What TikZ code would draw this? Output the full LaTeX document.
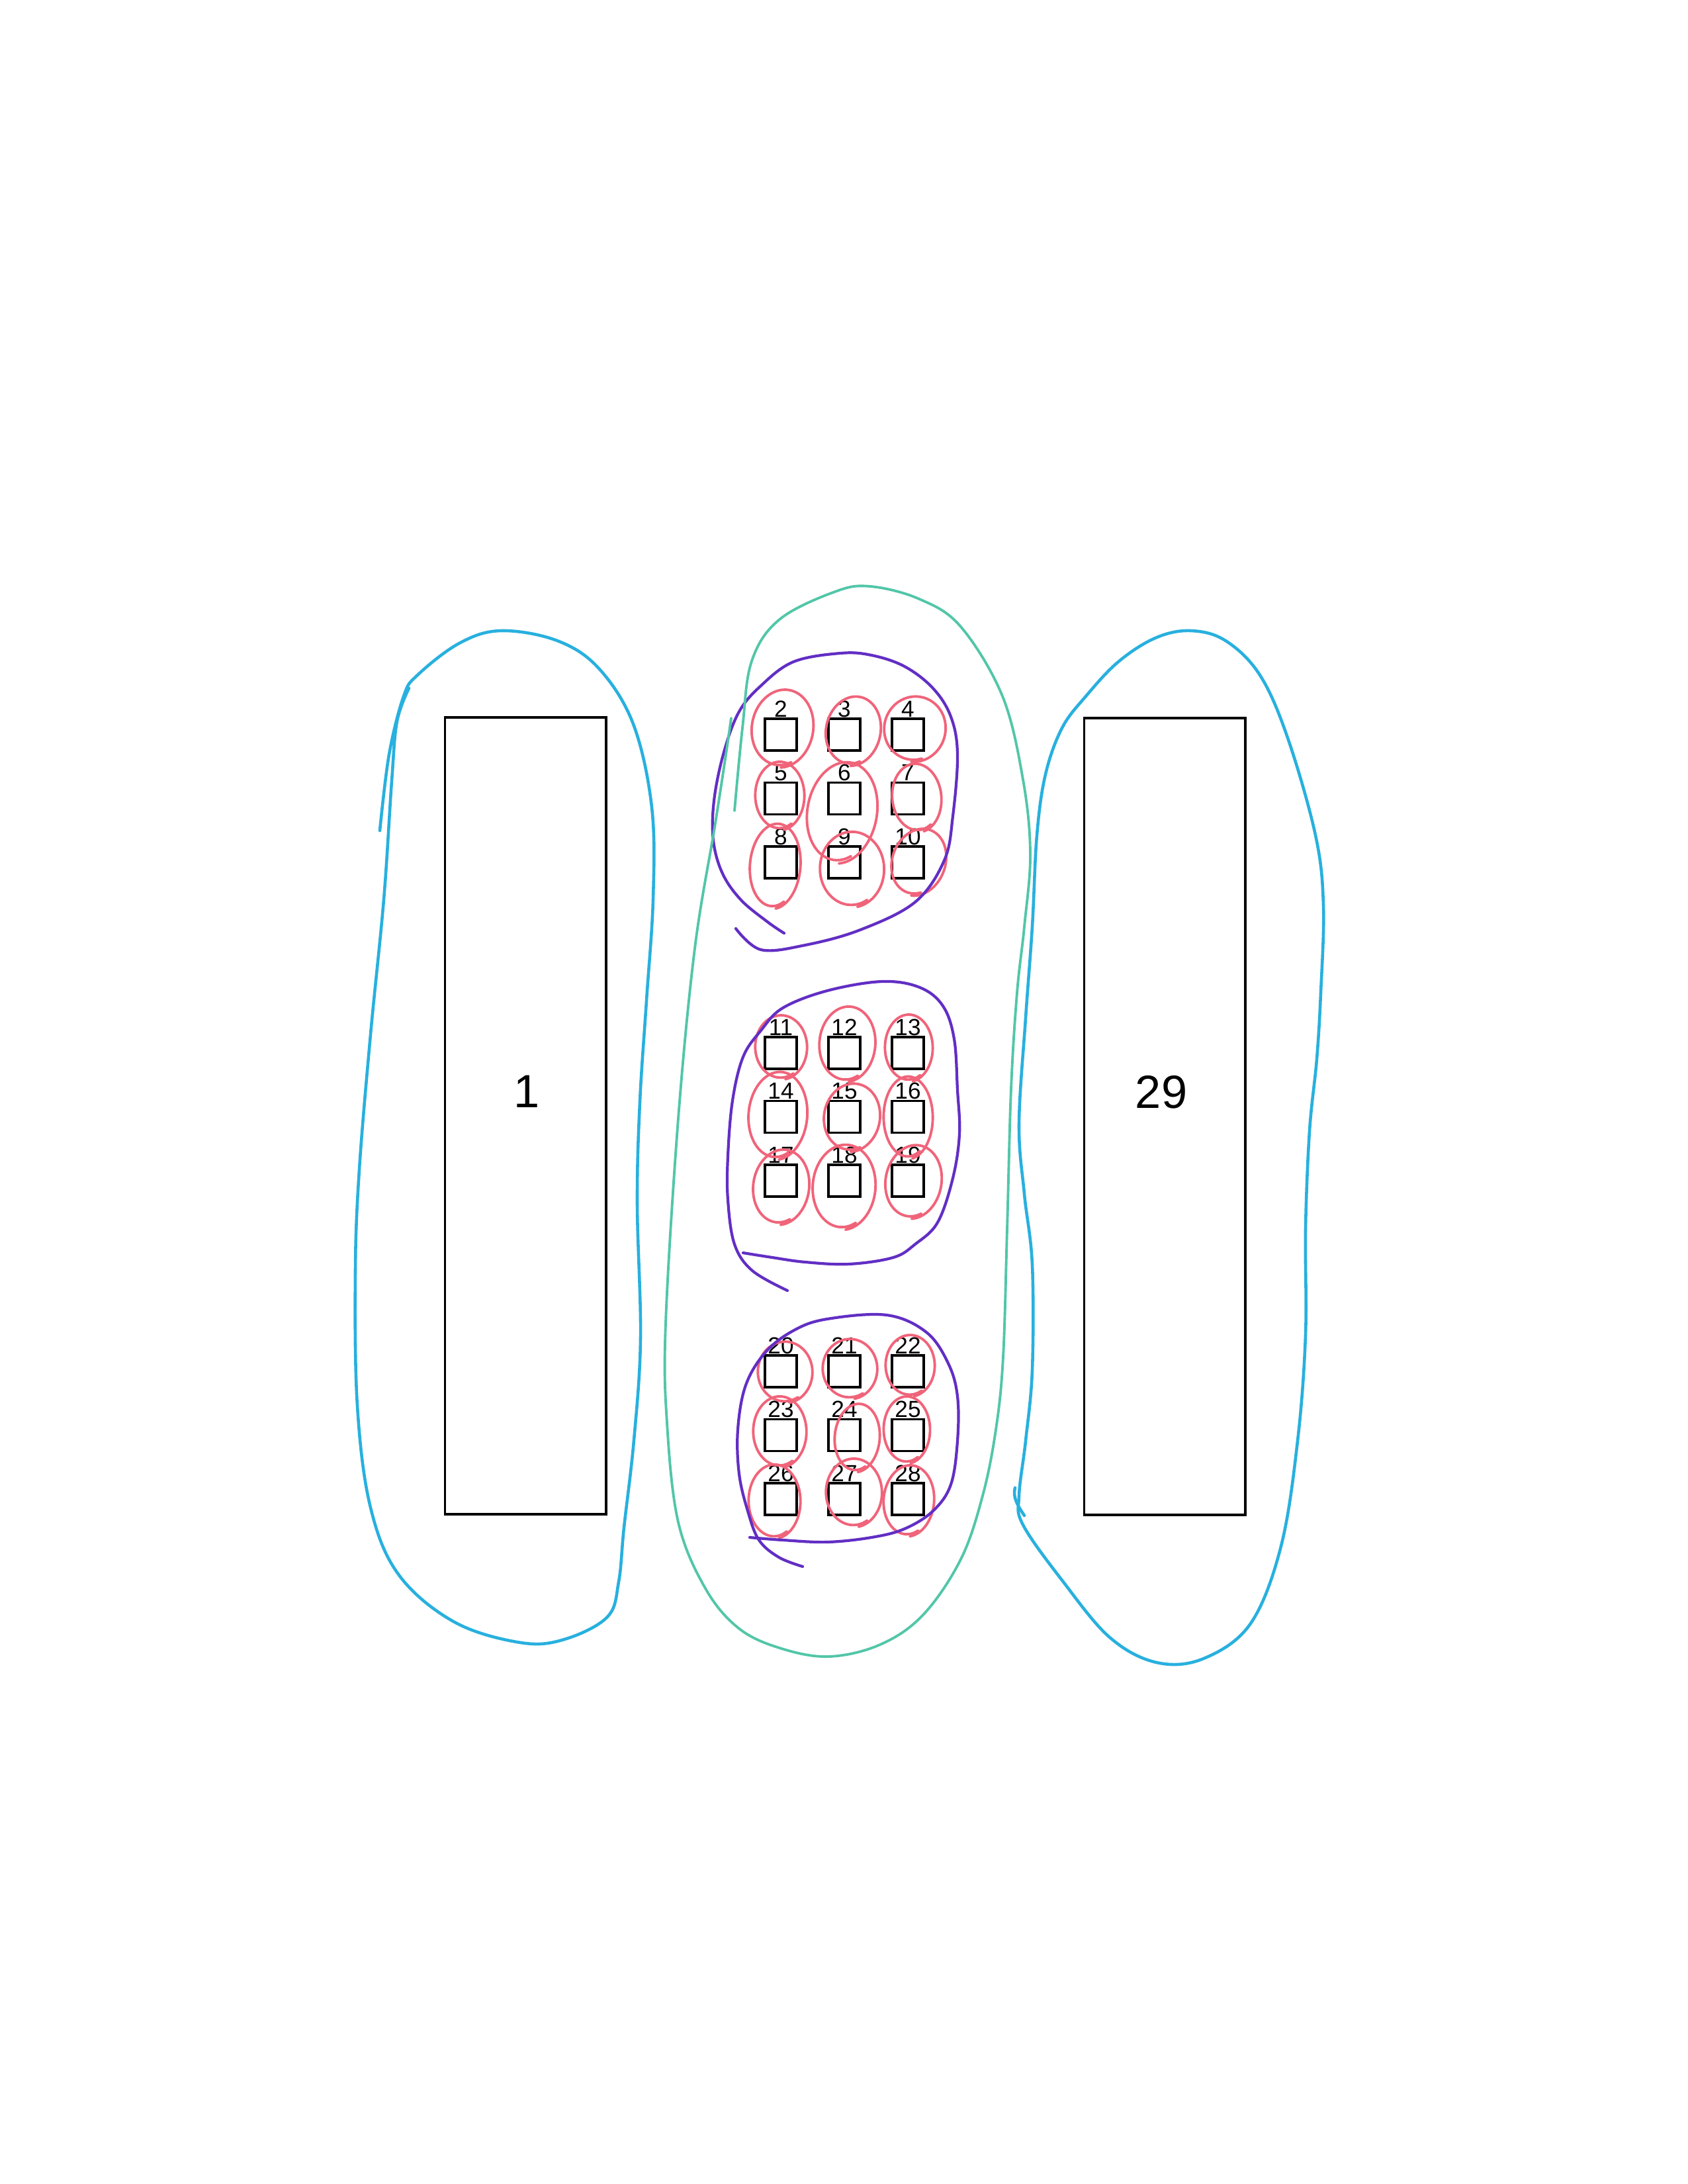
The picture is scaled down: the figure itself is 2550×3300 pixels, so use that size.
\documentclass[tikz,border=0pt]{standalone}
\usepackage{fontspec}
\setmainfont{Liberation Sans}
\usepackage{tikz}
\definecolor{wrapblue}{RGB}{40,176,222}
\definecolor{wrapteal}{RGB}{82,198,168}
\definecolor{wrappurple}{RGB}{98,46,196}
\definecolor{wrapred}{RGB}{240,100,122}

\begin{document}
\begin{tikzpicture}[x=0.01cm,y=-0.01cm,
 block/.style={draw,line width=1.1pt,minimum width=2.43cm,minimum height=12.03cm,inner sep=0},
 padbox/.style={draw,line width=1.1pt,minimum size=0.48cm,inner sep=0},
 numtag/.style={anchor=south,inner sep=0,font=\fontsize{10}{12}\selectfont},
 bignum/.style={inner sep=0,font=\fontsize{20}{24}\selectfont},
 bluewrap/.style={wrapblue,line width=1.3pt,line cap=round,line join=round},
 tealwrap/.style={wrapteal,line width=1.1pt,line cap=round,line join=round},
 purplewrap/.style={wrappurple,line width=1.2pt,line cap=round,line join=round},
 redwrap/.style={wrapred,line width=1.1pt,line cap=round,line join=round}]
 \useasboundingbox (0,0) rectangle (2550,3300);
 \node[block] (r1) at (794,1686) {};
 \node[block] (r29) at (1760,1687) {};
 \node[bignum] (l1) at (796,1649) {1};
 \node[bignum] (l29) at (1755,1650) {29};
 \foreach \g in {0,1,2}
  \foreach \r in {0,1,2}
   \foreach \c in {0,1,2} {
    \pgfmathtruncatemacro\n{2+9*\g+3*\r+\c}
    \node[padbox] (s\n) at ({1180+96*\c},{1110+481*\g+96.5*\r}) {};
    \node[numtag] (t\n) at (s\n.north) {\n};
   }
 \foreach \n/\cx/\cy/\rx/\ry/\a in {2/1182/1100/45/56/-10, 3/1289/1104/40/50/-12, 4/1382/1101/45/47/-15,
  5/1178/1202/36/49/0, 6/1272/1227/51/73/-10, 7/1385/1205/36/49/5,
  8/1171/1308/37/61/-5, 9/1287/1313/47/54/0, 10/1388/1302/39/49/-20,
  11/1180/1582/38/46/0, 12/1280/1577/41/54/-5, 13/1373/1583/35/48/0,
  14/1175/1685/43/63/-5, 15/1287/1688/41/49/-10, 16/1372/1688/36/59/0,
  17/1180/1793/41/54/-8, 18/1275/1793/46/61/-5, 19/1380/1785/41/53/-10,
  20/1186/2073/40/44/0, 21/1284/2068/40/43/0, 22/1375/2063/36/44/0,
  23/1178/2163/39/51/0, 24/1295/2172/33/49/-5, 25/1370/2160/34/48/0,
  26/1170/2268/38/53/0, 27/1290/2255/41/49/0, 28/1373/2267/37/51/-5}
  \draw[redwrap,rotate around={\a:(\cx,\cy)}] plot[domain=60:440,samples=40,smooth]
   ({\cx+\rx*cos(\x)*(1+0.00015*(\x-60))},{\cy+\ry*sin(\x)*(1+0.0002*(\x-60))});
 \draw[purplewrap] plot[smooth,tension=0.6] coordinates {(1112,1403) (1150,1435) (1217,1428) (1300,1405)
  (1383,1363) (1427,1300) (1440,1233) (1447,1140) (1437,1083) (1410,1040) (1367,1007) (1317,990)
  (1270,987) (1199,1000) (1149,1037) (1116,1077) (1093,1140) (1079,1210) (1078,1270) (1092,1320)
  (1120,1360) (1160,1393) (1185,1410)};
 \draw[purplewrap] plot[smooth,tension=0.6] coordinates {(1123,1893) (1167,1900) (1217,1907) (1283,1910)
  (1350,1900) (1383,1880) (1417,1847) (1440,1780) (1450,1713) (1447,1647) (1442,1570) (1425,1520)
  (1390,1492) (1333,1483) (1250,1497) (1183,1523) (1150,1557) (1123,1597) (1107,1663) (1100,1747)
  (1100,1813) (1110,1880) (1137,1920) (1190,1950)};
 \draw[purplewrap] plot[smooth,tension=0.6] coordinates {(1133,2323) (1183,2327) (1250,2330) (1317,2323)
  (1367,2310) (1410,2283) (1437,2243) (1447,2177) (1447,2110) (1433,2060) (1400,2013) (1340,1987)
  (1250,1993) (1200,2010) (1157,2043) (1127,2093) (1115,2160) (1117,2227) (1130,2283)
  (1147,2327) (1177,2353) (1213,2367)};
 \draw[tealwrap] plot[smooth,tension=0.6] coordinates {(1110,1225) (1122,1100) (1136,999) (1178,936)
  (1262,894) (1315,886) (1389,905) (1452,947) (1515,1052) (1546,1178) (1557,1290)
  (1548,1400) (1537,1500) (1528,1645) (1522,1857) (1516,2050) (1505,2160) (1485,2260) (1452,2356)
  (1395,2440) (1330,2485) (1252,2503) (1178,2490) (1116,2460) (1066,2400) (1025,2300) (1008,2150)
  (1006,1999) (1025,1690) (1050,1433) (1080,1250) (1097,1140) (1105,1085)};
 \draw[bluewrap] plot[smooth,tension=0.6] coordinates {(574,1255) (588,1140) (610,1052) (631,1020)
  (694,972) (757,953) (842,968) (905,1010) (957,1094) (985,1220) (987,1359) (977,1512) (967,1665)
  (963,1818) (968,2022) (958,2176) (943,2308) (935,2390) (918,2443) (853,2477) (787,2482) (687,2451)
  (603,2380) (560,2278) (540,2124) (537,1920) (543,1767) (560,1563) (580,1359) (592,1180) (600,1090)
  (618,1040)};
 \draw[bluewrap] plot[smooth cycle,tension=0.6] coordinates {(1799,953) (1852,968) (1904,1020) (1946,1115)
  (1988,1262) (2000,1368) (1996,1500) (1990,1600) (1979,1709) (1973,1857) (1973,2017) (1961,2177) (1936,2336)
  (1890,2453) (1819,2506) (1748,2512) (1677,2474) (1606,2389) (1546,2304) (1540,2260) (1550,2177)
  (1560,2070) (1560,1911) (1548,1804) (1540,1698) (1550,1538) (1560,1400) (1567,1262) (1580,1170)
  (1605,1100) (1641,1052) (1690,1000) (1746,964)};
 \draw[bluewrap] (1534,2248) .. controls (1530,2262) and (1538,2275) .. (1548,2290);
\end{tikzpicture}
\end{document}
